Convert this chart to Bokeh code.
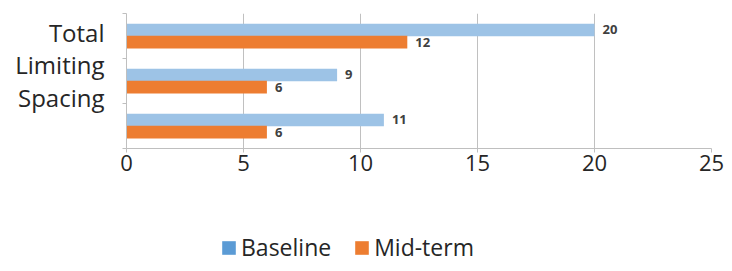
from bokeh.plotting import figure
from bokeh.layouts import column
from bokeh.models import (ColumnDataSource, FixedTicker, Range1d, Legend,
                          LegendItem, LinearAxis)
from bokeh.core.properties import value
from bokeh.embed import file_html
from bokeh.resources import INLINE

categories = ["Total", "Limiting", "Spacing"]
baseline = [20, 9, 11]
midterm = [12, 6, 6]
x_ticks = [0, 5, 10, 15, 20, 25]
series_names = ["Baseline", "Mid-term"]
series_colors = ["#9DC3E6", "#ED7D31"]
legend_colors = ["#5B9BD5", "#ED7D31"]

FONT = "Open Sans"
n = len(categories)
centers = [n - i - 0.5 for i in range(n)]
bar_h = 0.28
off = 0.135

src_b = ColumnDataSource(dict(y=[c + off for c in centers], x=baseline,
                              label=[str(v) for v in baseline]))
src_m = ColumnDataSource(dict(y=[c - off for c in centers], x=midterm,
                              label=[str(v) for v in midterm]))

p = figure(width=724, height=190, x_range=Range1d(0, 25), y_range=Range1d(0, n),
           output_backend="svg", toolbar_location=None,
           min_border_left=126, min_border_right=13, min_border_top=13,
           min_border_bottom=42)
p.outline_line_color = None

p.hbar(y="y", right="x", left=0, height=bar_h, source=src_b,
       fill_color=series_colors[0], line_color=None)
p.hbar(y="y", right="x", left=0, height=bar_h, source=src_m,
       fill_color=series_colors[1], line_color=None)

for src in (src_b, src_m):
    p.text(x="x", y="y", text="label", source=src, x_offset=8,
           text_baseline="middle", text_align="left",
           text_font=value(FONT), text_font_style="bold",
           text_font_size="13px", text_color="#404040")

# x axis
p.xaxis.ticker = FixedTicker(ticks=x_ticks)
p.xaxis.major_label_text_font = FONT
p.xaxis.major_label_text_font_size = "22px"
p.xaxis.major_label_text_color = "#262626"
p.xaxis.axis_line_color = "#BFBFBF"
p.xaxis.major_tick_line_color = "#BFBFBF"
p.xaxis.major_tick_out = 4
p.xaxis.major_tick_in = 0
p.xaxis.minor_tick_line_color = None
p.xaxis.major_label_standoff = 2

# y axis: band boundaries only
band_ticks = list(range(n + 1))
p.yaxis.ticker = FixedTicker(ticks=band_ticks)
p.yaxis.major_label_overrides = {t: "" for t in band_ticks}
p.yaxis.major_label_standoff = 0
p.yaxis.axis_line_color = "#BFBFBF"
p.yaxis.major_tick_line_color = "#BFBFBF"
p.yaxis.major_tick_out = 4
p.yaxis.major_tick_in = 0
p.yaxis.minor_tick_line_color = None

# category labels, stacked at the top left as in the original
label_y = [round(n - 0.42 - i * 0.72, 2) for i in range(n)]
lab_axis = LinearAxis(ticker=FixedTicker(ticks=label_y),
                      major_label_overrides={y: c for y, c in zip(label_y, categories)},
                      axis_line_color=None, major_tick_line_color=None,
                      minor_tick_line_color=None, major_tick_out=0,
                      major_tick_in=0, minor_tick_out=0,
                      major_label_standoff=18,
                      major_label_text_font=FONT,
                      major_label_text_font_size="24px",
                      major_label_text_color="#262626")
p.add_layout(lab_axis, "left")

p.xgrid.ticker = FixedTicker(ticks=x_ticks)
p.xgrid.grid_line_color = "#C0C0C0"
p.ygrid.visible = False

# legend in its own strip below the chart
q = figure(width=724, height=73, output_backend="svg", toolbar_location=None,
           x_axis_type=None, y_axis_type=None, min_border=0,
           x_range=Range1d(0, 1), y_range=Range1d(0, 1))
q.outline_line_color = None
q.grid.visible = False
items = []
for name, col in zip(series_names, legend_colors):
    r = q.hbar(y=[0], left=[0], right=[0], height=0, fill_color=col,
               line_color=None)
    items.append(LegendItem(label=name, renderers=[r]))
legend = Legend(items=items, orientation="horizontal", location=(94, 0),
                glyph_width=17, glyph_height=17, label_standoff=4, spacing=22,
                label_text_font=FONT, label_text_font_size="23px",
                label_text_color="#262626", padding=0, margin=0,
                border_line_color=None, background_fill_alpha=0)
q.add_layout(legend, "center")

open("out.html", "w").write(file_html(column(p, q, spacing=0), INLINE))
